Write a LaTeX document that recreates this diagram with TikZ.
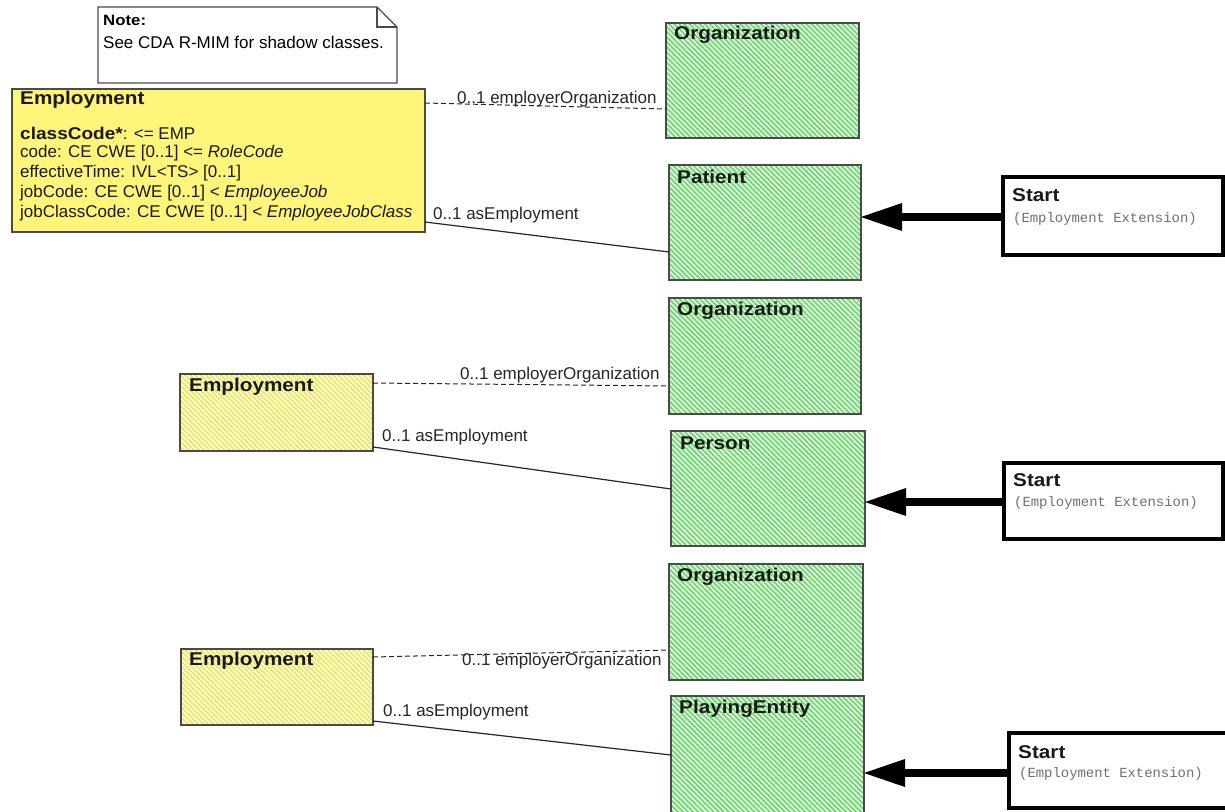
\documentclass[tikz,border=0pt]{standalone}
\usepackage{fontspec}
\setmainfont{Liberation Sans}[BoldFeatures={FakeStretch=1.12}]
\setmonofont{Liberation Mono}
\usetikzlibrary{calc,arrows.meta,patterns.meta}
\definecolor{boxgray}{HTML}{4A4A4A}
\definecolor{hgreen}{HTML}{6EDC6E}
\definecolor{hyellow}{HTML}{EEEA5C}
\definecolor{solidyellow}{HTML}{FFF57A}
\definecolor{labelc}{HTML}{262626}
\definecolor{monoc}{HTML}{707070}
\tikzset{
  cls/.style={draw=boxgray, line width=1.3pt, anchor=north west, inner sep=0pt, outer sep=0pt},
  greenbox/.style={cls, pattern={Lines[angle=-45,distance=3.6pt,line width=2pt]}, pattern color=hgreen},
  yellowhatch/.style={cls, pattern={Lines[angle=-45,distance=3.6pt,line width=2pt]}, pattern color=hyellow},
  yellowsolid/.style={cls, fill=solidyellow},
  startbox/.style={draw=black, line width=3.6pt, anchor=north west, inner sep=0pt, outer sep=0pt, fill=white},
  ttl/.style={anchor=west, inner sep=0pt, font=\fontsize{18.5}{20}\selectfont\bfseries, text=black!90},
  attr/.style={anchor=west, inner sep=0pt, font=\fontsize{17}{19}\selectfont, text=black!90},
  lbl/.style={anchor=west, inner sep=0pt, font=\fontsize{17}{19}\selectfont, text=labelc},
  monot/.style={anchor=west, inner sep=0pt, font=\fontsize{13.9}{16}\selectfont\ttfamily, text=monoc},
  dashconn/.style={draw=black!85, line width=1pt, dash pattern=on 5pt off 3pt},
  solidconn/.style={draw=black!85, line width=1.2pt},
  bigarrow/.style={draw=black, line width=8.5pt, -{Triangle[length=41pt,width=28pt,line width=0pt]}}
}
\begin{document}
\begin{tikzpicture}[x=1pt,y=-1pt]
\clip (0,0) rectangle (1225,811);
\fill[white] (0,0) rectangle (1225,811);

% ---------- note ----------
\draw[draw=boxgray, line width=1.3pt, fill=white] (98,7) -- (377,7) -- (397,27) -- (397,83) -- (98,83) -- cycle;
\draw[draw=boxgray, line width=1.3pt] (377,7) -- (377,27) -- (397,27);
\node[anchor=west, inner sep=0pt, font=\fontsize{15}{17}\selectfont\bfseries] (notet) at (103,20) {Note:};
\node[anchor=west, inner sep=0pt, font=\fontsize{17}{19}\selectfont] (notex) at (103,42) {See CDA R-MIM for shadow classes.};

% ---------- boxes ----------
\node[yellowsolid, minimum width=413pt, minimum height=143pt] (emp1) at (12,89) {};
\node[greenbox, minimum width=193pt, minimum height=115pt] (org1) at (666,23) {};
\node[greenbox, minimum width=192pt, minimum height=115pt] (patient) at (669,165) {};
\node[startbox, minimum width=220pt, minimum height=78pt] (start1) at (1003,177) {};

\node[greenbox, minimum width=192pt, minimum height=116pt] (org2) at (669,298) {};
\node[yellowhatch, minimum width=193pt, minimum height=77pt] (emp2) at (180,374) {};
\node[greenbox, minimum width=194pt, minimum height=115pt] (person) at (671,431) {};
\node[startbox, minimum width=219pt, minimum height=76pt] (start2) at (1004,463) {};

\node[greenbox, minimum width=194pt, minimum height=116pt] (org3) at (669,564) {};
\node[yellowhatch, minimum width=192pt, minimum height=76pt] (emp3) at (181,649) {};
\node[greenbox, minimum width=193pt, minimum height=130pt] (playing) at (671,696) {};
\node[startbox, minimum width=230pt, minimum height=75pt] (start3) at (1009,733) {};

% ---------- connectors ----------
\draw[dashconn] ($(emp1.north east)+(0,14)$) -- ($(org1.north west)+(0,86)$);
\draw[solidconn] ($(emp1.north east)+(0,133)$) -- ($(patient.north west)+(0,87)$);
\draw[bigarrow] ($(start1.north west)+(0,40)$) -- ($(patient.north east)+(0,52)$);

\draw[dashconn] ($(emp2.north east)+(0,9)$) -- ($(org2.north west)+(0,88)$);
\draw[solidconn] ($(emp2.north east)+(0,73)$) -- ($(person.north west)+(0,58)$);
\draw[bigarrow] ($(start2.north west)+(0,39)$) -- ($(person.north east)+(0,71)$);

\draw[dashconn] ($(emp3.north east)+(0,8)$) -- ($(org3.north west)+(0,86)$);
\draw[solidconn] ($(emp3.north east)+(0,72)$) -- ($(playing.north west)+(0,59)$);
\draw[bigarrow] ($(start3.north west)+(0,40)$) -- ($(playing.north east)+(0,77)$);

% ---------- connector labels ----------
\node[lbl] (l1) at (457,99) {0..1 employerOrganization};
\node[lbl] (l2) at (433,215) {0..1 asEmployment};
\node[lbl] (l3) at (460,375) {0..1 employerOrganization};
\node[lbl] (l4) at (382,437) {0..1 asEmployment};
\node[lbl] (l5) at (462,661) {0..1 employerOrganization};
\node[lbl] (l6) at (383,712) {0..1 asEmployment};

% ---------- titles ----------
\node[ttl] (emp1t) at (20,100) {Employment};
\node[attr] (a1) at (20,133) {\textbf{classCode*}: <= EMP};
\node[attr] (a2) at (20,153) {code: CE CWE [0..1] <= \textit{RoleCode}};
\node[attr] (a3) at (20,173) {effectiveTime: IVL<TS> [0..1]};
\node[attr] (a4) at (20,193) {jobCode: CE CWE [0..1] < \textit{EmployeeJob}};
\node[attr] (a5) at (20,213) {jobClassCode: CE CWE [0..1] < \textit{EmployeeJobClass}};

\node[ttl] (org1t) at (674,35) {Organization};
\node[ttl] (patt) at (677,177) {Patient};
\node[ttl] (org2t) at (677,311) {Organization};
\node[ttl] (emp2t) at (189,387) {Employment};
\node[ttl] (pert) at (680,443) {Person};
\node[ttl] (org3t) at (677,577) {Organization};
\node[ttl] (emp3t) at (189,661) {Employment};
\node[ttl] (playt) at (679,709) {PlayingEntity};

\node[ttl] (s1t) at (1012,195) {Start};
\node[monot] (s1x) at (1013,219) {(Employment Extension)};
\node[ttl] (s2t) at (1013,480) {Start};
\node[monot] (s2x) at (1014,503) {(Employment Extension)};
\node[ttl] (s3t) at (1018,752) {Start};
\node[monot] (s3x) at (1019,774) {(Employment Extension)};
\end{tikzpicture}
\end{document}
